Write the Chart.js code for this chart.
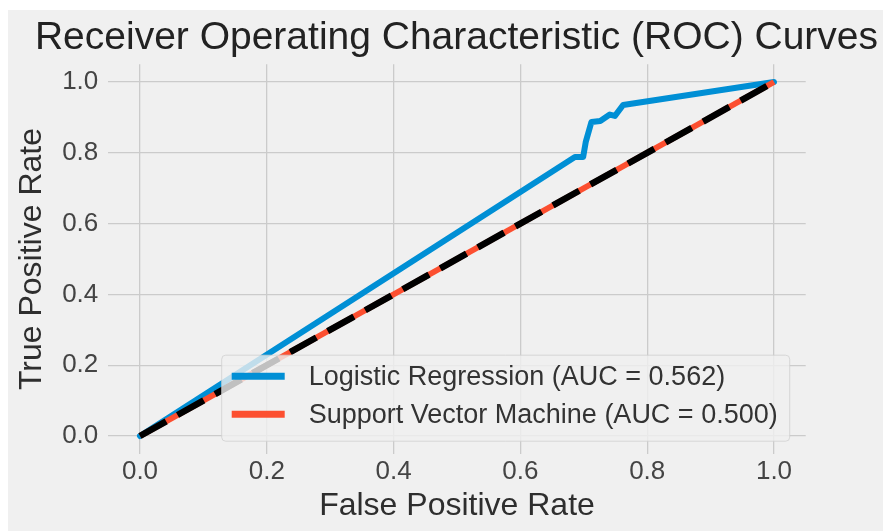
<!DOCTYPE html>
<html>
<head>
<meta charset="utf-8">
<script src="https://cdn.jsdelivr.net/npm/chart.js@4.4.1/dist/chart.umd.min.js"></script>
<style>
  html, body { margin: 0; padding: 0; background: #ffffff; }
  #wrap { position: absolute; left: 8px; top: 10px; width: 875px; height: 521px; background: #f0f0f0; }
  canvas { display: block; }
</style>
</head>
<body>
<div id="wrap"><canvas id="c"></canvas></div>
<script>
// ---- data ----
const fprLR = [0, 0.686, 0.699, 0.703, 0.712, 0.726, 0.741, 0.749, 0.762, 1.0];
const tprLR = [0, 0.788, 0.788, 0.830, 0.887, 0.890, 0.908, 0.904, 0.935, 1.0];
const fprSVM = [0, 1];
const tprSVM = [0, 1];
const fprChance = [0, 1];
const tprChance = [0, 1];
const tickValues = [0, 0.2, 0.4, 0.6, 0.8, 1.0];
const seriesLabels = ['Logistic Regression (AUC = 0.562)', 'Support Vector Machine (AUC = 0.500)'];
const titleText = 'Receiver Operating Characteristic (ROC) Curves';
const xTitle = 'False Positive Rate';
const yTitle = 'True Positive Rate';

const FONT = "'Liberation Sans', Arial, Helvetica, sans-serif";
const toXY = (xs, ys) => xs.map((x, i) => ({ x: x, y: ys[i] }));

const legendPlugin = {
  id: 'insideLegend',
  afterDatasetsDraw(chart) {
    const ctx = chart.ctx;
    const ca = chart.chartArea;
    const items = chart.data.datasets.filter(d => d.label);
    ctx.save();
    ctx.font = '27px ' + FONT;
    let tw = 0;
    items.forEach(d => { tw = Math.max(tw, ctx.measureText(d.label).width); });
    const padL = 10, handle = 53, gap = 24, padR = 12;
    const w = padL + handle + gap + tw + padR;
    const h = 86;
    const right = ca.right - 16;
    const bottom = ca.bottom - 12.5;
    const left = right - w, top = bottom - h;
    ctx.beginPath();
    if (ctx.roundRect) ctx.roundRect(left, top, w, h, 4); else ctx.rect(left, top, w, h);
    ctx.fillStyle = 'rgba(240,240,240,0.8)';
    ctx.fill();
    ctx.strokeStyle = 'rgba(208,208,208,0.8)';
    ctx.lineWidth = 1;
    ctx.stroke();
    items.forEach((d, i) => {
      const cy = top + 21 + i * 38;
      ctx.beginPath();
      ctx.moveTo(left + padL, cy);
      ctx.lineTo(left + padL + handle, cy);
      ctx.strokeStyle = d.borderColor;
      ctx.lineWidth = 7;
      ctx.lineCap = 'butt';
      ctx.stroke();
      ctx.fillStyle = '#333333';
      ctx.textBaseline = 'middle';
      ctx.textAlign = 'left';
      ctx.fillText(d.label, left + padL + handle + gap, cy + 1);
    });
    ctx.restore();
  }
};

new Chart(document.getElementById('c'), {
  type: 'line',
  data: {
    datasets: [
      {
        label: seriesLabels[0],
        data: toXY(fprLR, tprLR),
        borderColor: '#008fd5',
        borderWidth: 6,
        pointRadius: 0,
        tension: 0,
        fill: false,
        borderJoinStyle: 'round',
        borderCapStyle: 'round',
        order: 2
      },
      {
        label: seriesLabels[1],
        data: toXY(fprSVM, tprSVM),
        borderColor: '#fc4f30',
        borderWidth: 6,
        pointRadius: 0,
        tension: 0,
        fill: false,
        order: 1
      },
      {
        label: '',
        data: toXY(fprChance, tprChance),
        borderColor: '#000000',
        borderWidth: 6.5,
        borderDash: [30, 13],
        borderCapStyle: 'butt',
        pointRadius: 0,
        tension: 0,
        fill: false,
        order: 0
      }
    ]
  },
  options: {
    responsive: true,
    maintainAspectRatio: false,
    animation: false,
    layout: { padding: { left: 4, right: 5, top: 0, bottom: 0 } },
    plugins: {
      legend: { display: false },
      tooltip: { enabled: false },
      title: {
        display: true,
        text: titleText,
        align: 'end',
        color: '#222222',
        font: { family: FONT, size: 39, weight: 'normal', lineHeight: 1.2 },
        padding: { top: 4.9, bottom: 2.6 }
      }
    },
    scales: {
      x: {
        type: 'linear',
        min: -0.05,
        max: 1.05,
        afterBuildTicks: s => { s.ticks = tickValues.map(v => ({ value: v })); },
        afterFit: s => { s.height = 77.3; },
        ticks: {
          color: '#444444',
          padding: 2.2,
          font: { family: FONT, size: 26, lineHeight: 1.2 },
          callback: v => Number(v).toFixed(1),
          maxRotation: 0,
          autoSkip: false
        },
        grid: { color: '#cbcbcb', lineWidth: 1.3, drawTicks: false },
        border: { display: false },
        title: {
          display: true,
          text: xTitle,
          color: '#2e2e2e',
          font: { family: FONT, size: 32, lineHeight: 1.2 },
          padding: { top: 0, bottom: 5.5 }
        }
      },
      y: {
        type: 'linear',
        position: 'left',
        min: -0.05,
        max: 1.05,
        afterBuildTicks: s => { s.ticks = tickValues.map(v => ({ value: v })); },
        afterFit: s => { s.width = 96.3; },
        ticks: {
          color: '#444444',
          padding: 10,
          font: { family: FONT, size: 26, lineHeight: 1.2 },
          callback: v => Number(v).toFixed(1),
          autoSkip: false
        },
        grid: { color: '#cbcbcb', lineWidth: 1.3, drawTicks: false },
        border: { display: false },
        title: {
          display: true,
          text: yTitle,
          color: '#2e2e2e',
          font: { family: FONT, size: 32, lineHeight: 1.2 },
          padding: { top: 0.5, bottom: 0 }
        }
      },
      yRight: {
        type: 'linear',
        position: 'right',
        display: true,
        min: 0,
        max: 1,
        afterFit: s => { s.width = 72.3; },
        ticks: { display: false },
        grid: { display: false, drawTicks: false },
        border: { display: false }
      }
    }
  },
  plugins: [legendPlugin]
});
</script>
</body>
</html>
